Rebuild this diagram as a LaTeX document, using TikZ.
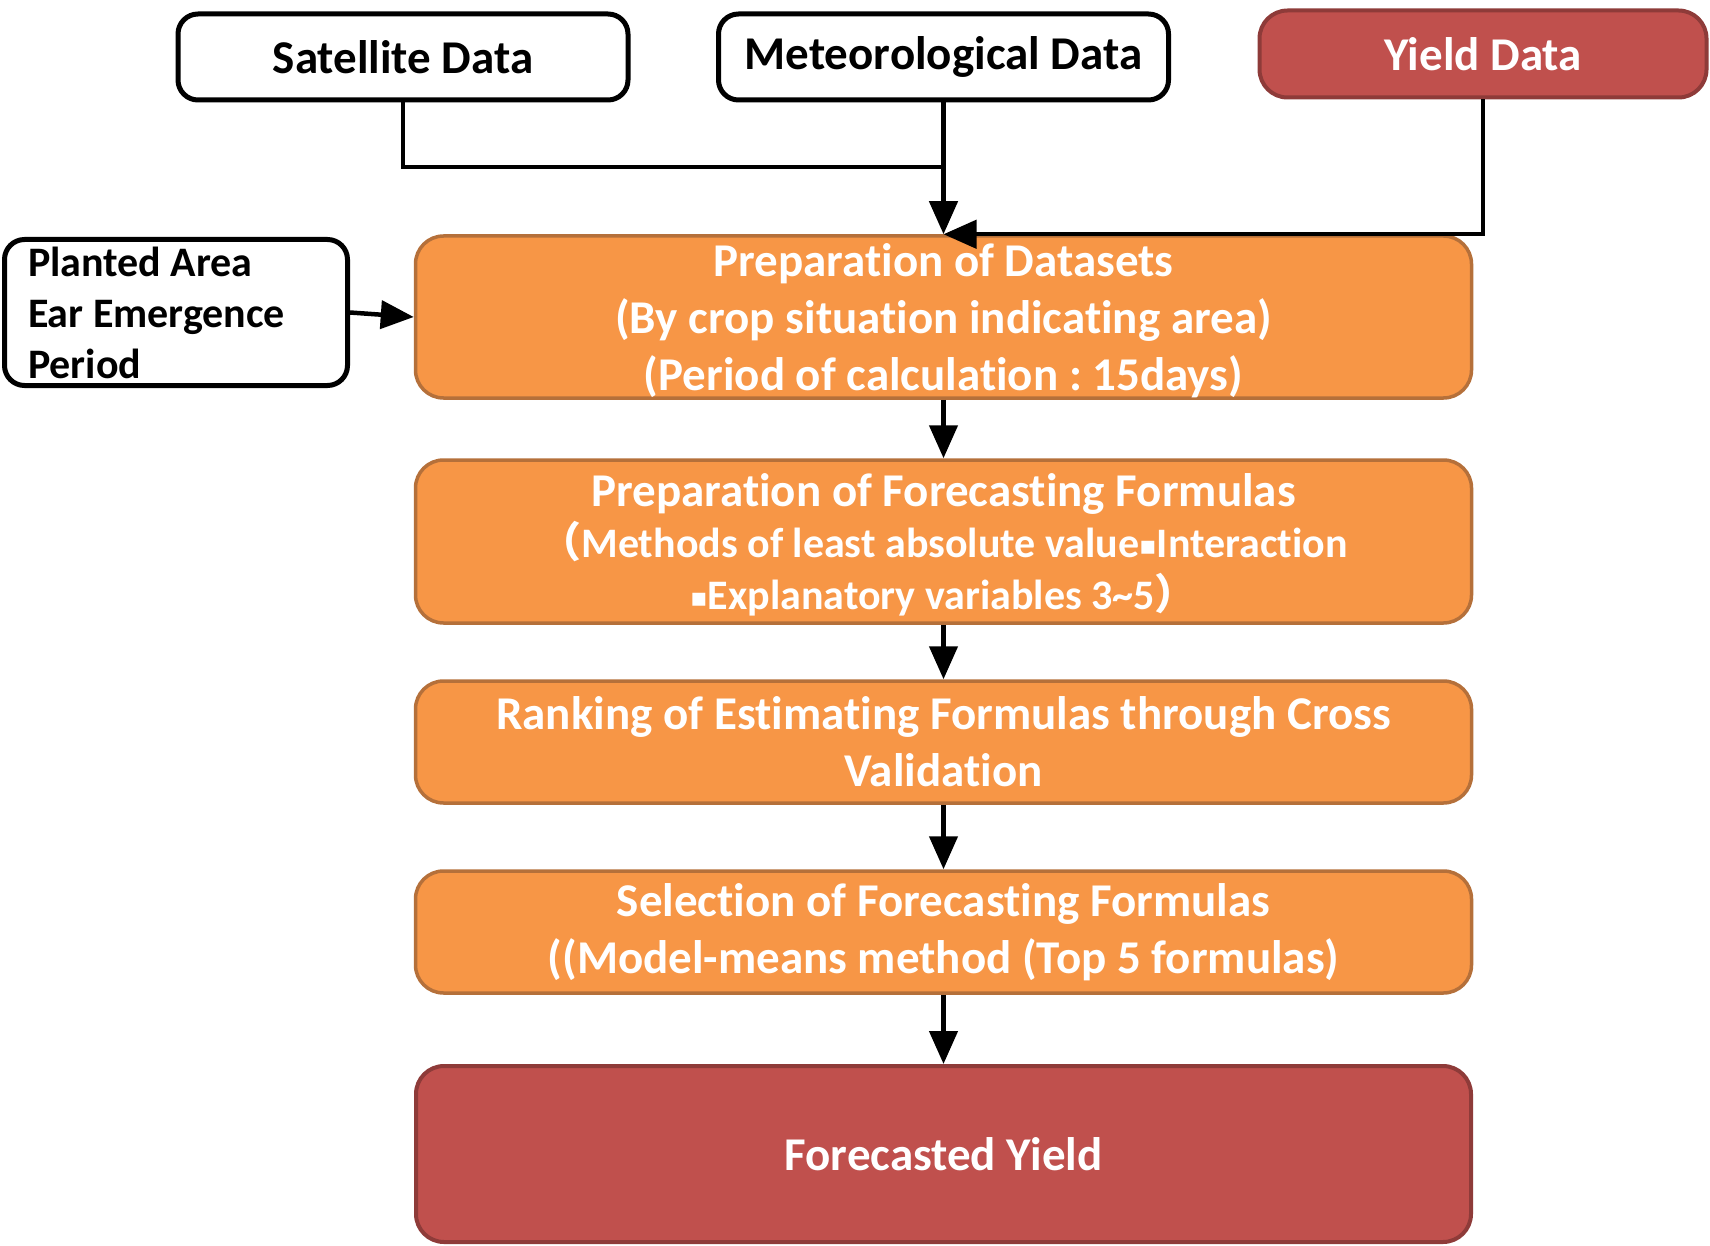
\documentclass[tikz,border=0pt]{standalone}
\usepackage{fontspec}
\setmainfont{Carlito}[Ligatures=NoCommon]
\newfontfamily\cjkfont{Noto Sans CJK JP}
\newfontfamily\markfont{DejaVu Sans}
\usetikzlibrary{arrows.meta}
\definecolor{stagefill}{HTML}{F79646}
\definecolor{stageline}{HTML}{B5703A}
\definecolor{yieldfill}{HTML}{C0504D}
\definecolor{yieldline}{HTML}{8E3B39}
\newcommand\sep{\raisebox{3pt}{\markfont\fontsize{26}{26}\selectfont ▪}}
\newcommand\subline{\fontsize{42}{52}\selectfont}
\tikzset{
  databox/.style={draw=black, line width=5pt, fill=white, rounded corners=20pt, align=center, minimum width=450pt, minimum height=86pt, font=\fontsize{47}{57}\selectfont\bfseries},
  stagebox/.style={draw=stageline, line width=3.5pt, fill=stagefill, text=white, rounded corners=28pt, align=center, minimum width=1056pt, font=\fontsize{47}{57}\selectfont\bfseries},
  yieldbox/.style={draw=yieldline, line width=4pt, fill=yieldfill, text=white, rounded corners=28pt, align=center, font=\fontsize{47}{57}\selectfont\bfseries},
  flow/.style={line width=4.5pt, -{Triangle[length=33pt,width=28pt]}}
}
\frenchspacing
\begin{document}
\begin{tikzpicture}[x=1pt, y=-1pt]
\useasboundingbox (0,0) rectangle (1710,1246);
\node[databox] (sat) at (403,57) {Satellite Data};
\node[databox] (met) at (943.5,57) {Meteorological Data};
\node[yieldbox, minimum width=447pt, minimum height=87pt] (yld) at (1483,54) {Yield Data};
\node[draw=black, line width=5pt, rounded corners=20pt, align=flush left, text width=296pt, inner xsep=23.5pt, minimum height=146pt, font=\fontsize{42}{51}\selectfont\bfseries] (plant) at (176,312.5) {Planted Area\\Ear Emergence\\Period};
\node[stagebox, minimum height=162pt, text depth=0pt] (prep) at (943.5,317) {Preparation of Datasets\\(By crop situation indicating area)\\(Period of calculation : 15days)};
\node[stagebox, minimum height=163pt, text depth=-6pt] (form) at (943.5,541.5) {Preparation of Forecasting Formulas\\[-6pt]\subline\smash{\cjkfont （}Methods of least absolute value\sep Interaction\\[-5pt]\subline\sep Explanatory variables 3\textasciitilde5\smash{\cjkfont ）}};
\node[stagebox, minimum height=122pt] (rank) at (943.5,742) {Ranking of Estimating Formulas through Cross\\Validation};
\node[stagebox, minimum height=122pt] (sel) at (943.5,932) {Selection of Forecasting Formulas\\((Model-means method (Top 5 formulas)};
\node[yieldbox, minimum width=1055pt, minimum height=176pt] (fore) at (943.5,1154) {Forecasted Yield};
\coordinate (join) at (943.5,167);
\draw[line width=4.5pt] (sat.south) |- (join);
\draw[flow] (met.south) -- (prep.north);
\draw[flow] (yld.south) |- (prep.north);
\draw[flow] (plant.east) -- (prep.west);
\draw[flow] (prep.south) -- (form.north);
\draw[flow] (form.south) -- (rank.north);
\draw[flow] (rank.south) -- (sel.north);
\draw[flow] (sel.south) -- (fore.north);
\end{tikzpicture}
\end{document}
